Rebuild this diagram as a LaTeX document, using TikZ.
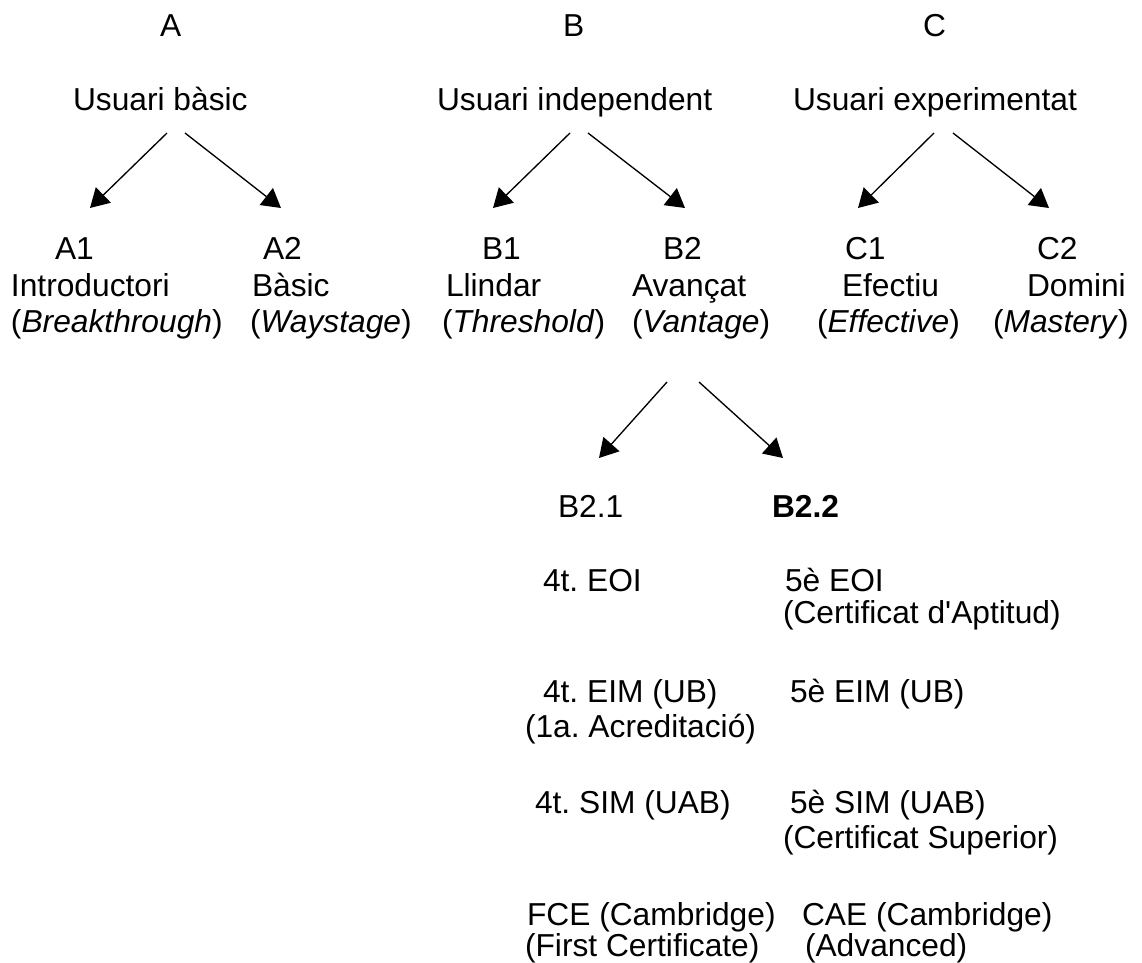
\documentclass[tikz,border=0pt]{standalone}
\usepackage{fontspec}
\setmainfont{Liberation Sans}
\usetikzlibrary{arrows.meta}
\frenchspacing
\tikzset{
  lbl/.style={anchor=base west, inner sep=0pt, outer sep=0pt, font=\fontsize{23.8}{28}\selectfont},
  conn/.style={line width=1pt, -{Triangle[length=14pt, width=16pt]}}
}
\begin{document}
\begin{tikzpicture}[x=0.75pt,y=-0.75pt]
\useasboundingbox (0,0) rectangle (1142,963);
% top letters
\node[lbl] (A) at (160,37) {A};
\node[lbl] (B) at (563,37) {B};
\node[lbl] (C) at (923,37) {C};
% users
\node[lbl] (ua) at (73,111) {Usuari bàsic};
\node[lbl] (ub) at (437,111) {Usuari independent};
\node[lbl] (uc) at (793,111) {Usuari experimentat};
% levels
\node[lbl] (a1) at (55,259) {A1};
\node[lbl] (a1n) at (11,296) {Introductori};
\node[lbl] (a1e) at (11,332) {(\textit{Breakthrough})};
\node[lbl] (a2) at (263,259) {A2};
\node[lbl] (a2n) at (252,296) {Bàsic};
\node[lbl] (a2e) at (250,332) {(\textit{Waystage})};
\node[lbl] (b1) at (482,259) {B1};
\node[lbl] (b1n) at (446,296) {Llindar};
\node[lbl] (b1e) at (442,332) {(\textit{Threshold})};
\node[lbl] (b2) at (663,259) {B2};
\node[lbl] (b2n) at (632,296) {Avançat};
\node[lbl] (b2e) at (632,332) {(\textit{Vantage})};
\node[lbl] (c1) at (845,259) {C1};
\node[lbl] (c1n) at (842,296) {Efectiu};
\node[lbl] (c1e) at (817,332) {(\textit{Effective})};
\node[lbl] (c2) at (1037,259) {C2};
\node[lbl] (c2n) at (1027,296) {Domini};
\node[lbl] (c2e) at (993,332) {(\textit{Mastery})};
% sublevels
\node[lbl] (b21) at (558,517) {B2.1};
\node[lbl] (b22) at (772,517) {\textbf{B2.2}};
\node[lbl] (l1a) at (543,591) {4t. EOI};
\node[lbl] (r1a) at (785,591) {5è EOI};
\node[lbl] (r1b) at (783,623) {(Certificat d\textquotesingle Aptitud)};
\node[lbl] (l2a) at (543,702) {4t. EIM (UB)};
\node[lbl] (l2b) at (525,737) {(1a. Acreditació)};
\node[lbl] (r2a) at (790,702) {5è EIM (UB)};
\node[lbl] (l3a) at (535,813) {4t. SIM (UAB)};
\node[lbl] (r3a) at (790,813) {5è SIM (UAB)};
\node[lbl] (r3b) at (783,848) {(Certificat Superior)};
\node[lbl] (l4a) at (527,925) {FCE (Cambridge)};
\node[lbl] (l4b) at (525,956) {(First Certificate)};
\node[lbl] (r4a) at (802,925) {CAE (Cambridge)};
\node[lbl] (r4b) at (805,956) {(Advanced)};
% connector end points
\coordinate (uaL) at (167,133); \coordinate (uaR) at (185,133);
\coordinate (a1t) at (90,208);  \coordinate (a2t) at (281,208);
\coordinate (ubL) at (570,133); \coordinate (ubR) at (588,133);
\coordinate (b1t) at (493,208); \coordinate (b2t) at (685,208);
\coordinate (ucL) at (934,133); \coordinate (ucR) at (953,133);
\coordinate (c1t) at (858,208); \coordinate (c2t) at (1049,208);
\coordinate (b2L) at (667,382); \coordinate (b2R) at (699,382);
\coordinate (b21t) at (599,458); \coordinate (b22t) at (783,458);
% connectors
\draw[conn] (uaL) -- (a1t);
\draw[conn] (uaR) -- (a2t);
\draw[conn] (ubL) -- (b1t);
\draw[conn] (ubR) -- (b2t);
\draw[conn] (ucL) -- (c1t);
\draw[conn] (ucR) -- (c2t);
\draw[conn] (b2L) -- (b21t);
\draw[conn] (b2R) -- (b22t);
\end{tikzpicture}
\end{document}
